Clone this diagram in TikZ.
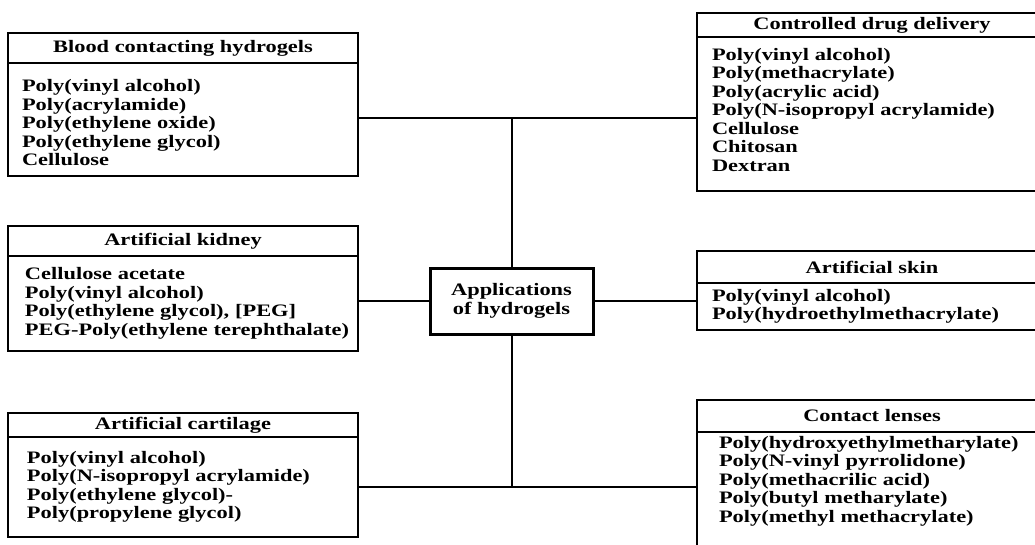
\documentclass[tikz,border=0pt]{standalone}
\usepackage{fontspec}
\setmainfont{Liberation Serif}[FakeStretch=1.28]
\usepackage{tikz}
\usetikzlibrary{positioning}
\tikzset{every node/.style={ % Bold serif text for every box
            font=\fontsize{17.5}{18.5}\selectfont\bfseries},
        head/.style={ % Title strip on top of each box
            draw, line width=2.4pt,
            minimum width=350pt,
            inner sep=0pt, outer sep=0pt,
            anchor=north west, align=center},
        list/.style={ % Body of each box, text flush left
            draw, line width=2.4pt,
            text width=320pt, inner xsep=15pt, inner ysep=0pt,
            outer sep=0pt, align=left},
        hub/.style={ % Central box
            draw, line width=3pt,
            minimum width=163pt, minimum height=66pt,
            outer sep=0pt, align=center},
        link/.style={ % Connecting lines
            line width=2pt}
        }
\newcommand{\padtail}[1]{\par\nointerlineskip\rule{0pt}{#1}} % extra room under a list

\begin{document}
\begin{tikzpicture}[x=1pt,y=-1pt]
    \useasboundingbox (0,0) rectangle (1035,544);

    \node[hub] (app) at (511.5,301) {Applications\\of hydrogels};

    % left column
    \node[head, minimum height=30pt] (blood) at (8,33) {Blood contacting hydrogels};
    \node[list, minimum height=113pt, text width=322pt, inner xsep=14pt] (bloodl) [below=0pt of blood]
        {\rule{0pt}{19pt}Poly(vinyl alcohol)\\Poly(acrylamide)\\Poly(ethylene oxide)\\Poly(ethylene glycol)\\Cellulose};

    \node[head, minimum height=30pt] (kid) at (8,226) {Artificial kidney};
    \node[list, minimum height=95pt, text width=334pt, inner xsep=8pt] (kidl) [below=0pt of kid]
        {\hspace*{9pt}Cellulose acetate\\\hspace*{9pt}Poly(vinyl alcohol)\\\hspace*{9pt}Poly(ethylene glycol), [PEG]\\\hspace*{9pt}PEG-Poly(ethylene terephthalate)};

    \node[head, minimum height=24pt] (cart) at (8,413) {Artificial cartilage};
    \node[list, minimum height=100pt, text width=312pt, inner xsep=19pt] (cartl) [below=0pt of cart]
        {Poly(vinyl alcohol)\\Poly(N-isopropyl acrylamide)\\Poly(ethylene glycol)-\\Poly(propylene glycol)};

    % right column
    \node[head, minimum height=24pt] (drug) at (697,13) {Controlled drug delivery};
    \node[list, minimum height=154pt] (drugl) [below=0pt of drug]
        {Poly(vinyl alcohol)\\Poly(methacrylate)\\Poly(acrylic acid)\\Poly(N-isopropyl acrylamide)\\Cellulose\\Chitosan\\Dextran\padtail{8pt}};

    \node[head, minimum height=32pt] (skin) at (697,251) {Artificial skin};
    \node[list, minimum height=47pt] (skinl) [below=0pt of skin]
        {Poly(vinyl alcohol)\\Poly(hydroethylmethacrylate)};

    \node[head, minimum height=32pt] (lens) at (697,400) {Contact lenses};
    \node[list, minimum height=138pt, text width=306pt, inner xsep=22pt] (lensl) [below=0pt of lens]
        {Poly(hydroxyethylmetharylate)\\Poly(N-vinyl pyrrolidone)\\Poly(methacrilic acid)\\Poly(butyl metharylate)\\Poly(methyl methacrylate)\padtail{40pt}};

    % junctions on the trunk
    \coordinate (top) at (511.5,118);
    \coordinate (bot) at (511.5,487);

    \draw[link] (bloodl.east |- top) -- (top) -- (drugl.west |- top);
    \draw[link] (cartl.east |- bot) -- (bot) -- (lensl.west |- bot);
    \draw[link] (top) -- (app.north);
    \draw[link] (app.south) -- (bot);
    \draw[link] (kidl.east |- app) -- (app.west);
    \draw[link] (app.east) -- (skinl.west |- app);
\end{tikzpicture}
\end{document}
